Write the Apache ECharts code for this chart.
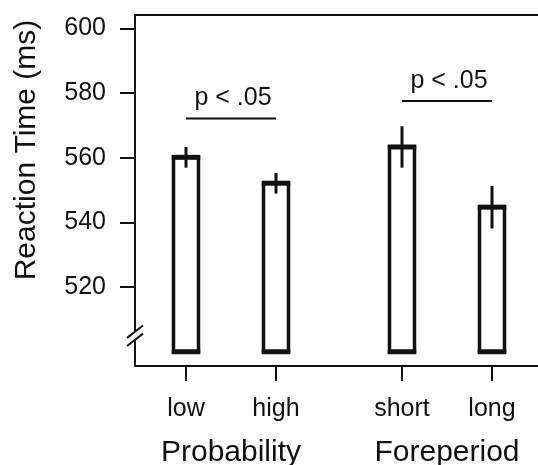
<!DOCTYPE html>
<html>
<head>
<meta charset="utf-8">
<script src="https://cdn.jsdelivr.net/npm/echarts@6/dist/echarts.min.js"></script>
<style>
  html, body { margin: 0; padding: 0; background: #fff; }
  #chart { width: 538px; height: 465px; }
</style>
</head>
<body>
<div id="chart"></div>
<script>
// conditions and group layout on a value axis
const categories = ['low', 'high', 'short', 'long'];
const xPos = [1, 2, 3.4, 4.4];
const groups = ['Probability', 'Foreperiod'];
const groupPos = [1.5, 3.9];

// mean RT and error (ms)
const meanRT = [560.1, 552.1, 563.3, 544.7];
const errRT = [3.2, 3.2, 6.4, 6.6];
const barBase = 500;

const yTicks = [520, 540, 560, 580, 600];

// significance brackets: from, to, height
const brackets = [
  [1, 2, 572.1],
  [3.4, 4.4, 577.5]
];
const bracketLabel = 'p < .05';

// the broken part of the y axis
const breakAt = [503.7, 506.2];

const INK = '#111';
const FONT = 'Liberation Sans, Arial, sans-serif';
const xMin = 0.4333;
const xMax = 4.9111;

const chart = echarts.init(document.getElementById('chart'));

const option = {
  animation: false,
  backgroundColor: '#fff',
  textStyle: { fontFamily: FONT, color: INK },
  grid: { left: 135, right: 0, top: 15, bottom: 99, outerBoundsMode: 'none', containLabel: false },
  xAxis: [
    {
      type: 'value',
      position: 'bottom',
      min: xMin,
      max: xMax,
      splitLine: { show: false },
      axisLine: { show: true, lineStyle: { color: INK, width: 2 } },
      axisTick: { show: true, length: 15, customValues: xPos, lineStyle: { color: INK, width: 2 } },
      axisLabel: {
        customValues: xPos,
        margin: 31,
        fontSize: 25,
        fontFamily: FONT,
        color: INK,
        formatter: (v) => categories[xPos.indexOf(v)] || ''
      }
    },
    {
      type: 'value',
      position: 'top',
      min: xMin,
      max: xMax,
      splitLine: { show: false },
      axisLine: { show: true, lineStyle: { color: INK, width: 2 } },
      axisTick: { show: false },
      axisLabel: { show: false }
    },
    {
      type: 'value',
      position: 'bottom',
      min: xMin,
      max: xMax,
      splitLine: { show: false },
      axisLine: { show: false },
      axisTick: { show: false },
      axisLabel: {
        customValues: groupPos,
        margin: 72,
        fontSize: 30,
        fontFamily: FONT,
        color: INK,
        formatter: (v) => groups[groupPos.indexOf(v)] || ''
      }
    }
  ],
  yAxis: {
    type: 'value',
    min: 495.6,
    max: 604.1,
    splitLine: { show: false },
    axisLine: { show: true, lineStyle: { color: INK, width: 2 } },
    axisTick: { show: true, length: 15, customValues: yTicks, lineStyle: { color: INK, width: 2 } },
    axisLabel: {
      customValues: yTicks,
      margin: 29,
      fontSize: 25,
      fontFamily: FONT,
      color: INK
    }
  },
  series: [
    {
      type: 'custom',
      name: 'RT',
      silent: true,
      xAxisIndex: 0,
      yAxisIndex: 0,
      encode: { x: 0, y: 1 },
      data: categories.map((c, i) => [xPos[i], meanRT[i], errRT[i]]),
      renderItem: (params, api) => {
        const x = api.value(0);
        const v = api.value(1);
        const e = api.value(2);
        const top = api.coord([x, v]);
        const bot = api.coord([x, barBase]);
        const hi = api.coord([x, v + e]);
        const lo = api.coord([x, v - e]);
        const w = 25;
        return {
          type: 'group',
          children: [
            {
              type: 'rect',
              shape: { x: top[0] - w / 2, y: top[1], width: w, height: bot[1] - top[1] },
              style: { fill: '#fff', stroke: INK, lineWidth: 3.5 }
            },
            {
              type: 'line',
              shape: { x1: top[0] - w / 2 - 1.75, y1: top[1], x2: top[0] + w / 2 + 1.75, y2: top[1] },
              style: { stroke: INK, lineWidth: 5 }
            },
            {
              type: 'line',
              shape: { x1: bot[0] - w / 2 - 1.75, y1: bot[1], x2: bot[0] + w / 2 + 1.75, y2: bot[1] },
              style: { stroke: INK, lineWidth: 5 }
            },
            {
              type: 'line',
              shape: { x1: hi[0], y1: hi[1], x2: lo[0], y2: lo[1] },
              style: { stroke: INK, lineWidth: 3 }
            }
          ]
        };
      }
    },
    {
      type: 'custom',
      name: 'brackets',
      silent: true,
      xAxisIndex: 0,
      yAxisIndex: 0,
      encode: { x: [0, 1], y: 2 },
      data: brackets,
      renderItem: (params, api) => {
        const p1 = api.coord([api.value(0), api.value(2)]);
        const p2 = api.coord([api.value(1), api.value(2)]);
        return {
          type: 'group',
          children: [
            {
              type: 'line',
              shape: { x1: p1[0], y1: p1[1], x2: p2[0], y2: p2[1] },
              style: { stroke: INK, lineWidth: 2 }
            },
            {
              type: 'text',
              style: {
                x: (p1[0] + p2[0]) / 2 + 2,
                y: p1[1] - 20,
                text: bracketLabel,
                fill: INK,
                font: '25px ' + FONT,
                align: 'center',
                verticalAlign: 'middle'
              }
            }
          ]
        };
      }
    }
  ]
};

chart.setOption(option);

// axis break marks and the y axis title
const ax = chart.convertToPixel({ xAxisIndex: 0 }, xMin);
const yLo = chart.convertToPixel({ yAxisIndex: 0 }, breakAt[0]);
const yHi = chart.convertToPixel({ yAxisIndex: 0 }, breakAt[1]);
const dx = 8;
const dy = 6.2;

chart.setOption({
  graphic: [
    {
      type: 'rect',
      silent: true,
      shape: { x: ax - 3, y: yHi, width: 6, height: yLo - yHi },
      style: { fill: '#fff' },
      z: 100
    },
    {
      type: 'line',
      silent: true,
      shape: { x1: ax - dx, y1: yHi + dy, x2: ax + dx, y2: yHi - dy },
      style: { stroke: INK, lineWidth: 2 },
      z: 101
    },
    {
      type: 'line',
      silent: true,
      shape: { x1: ax - dx, y1: yLo + dy, x2: ax + dx, y2: yLo - dy },
      style: { stroke: INK, lineWidth: 2 },
      z: 101
    },
    {
      type: 'text',
      silent: true,
      x: 27,
      y: 150,
      rotation: Math.PI / 2,
      style: {
        text: 'Reaction Time (ms)',
        fill: INK,
        font: '30px ' + FONT,
        align: 'center',
        verticalAlign: 'middle'
      }
    }
  ]
});

window.addEventListener('resize', () => chart.resize());
</script>
</body>
</html>
